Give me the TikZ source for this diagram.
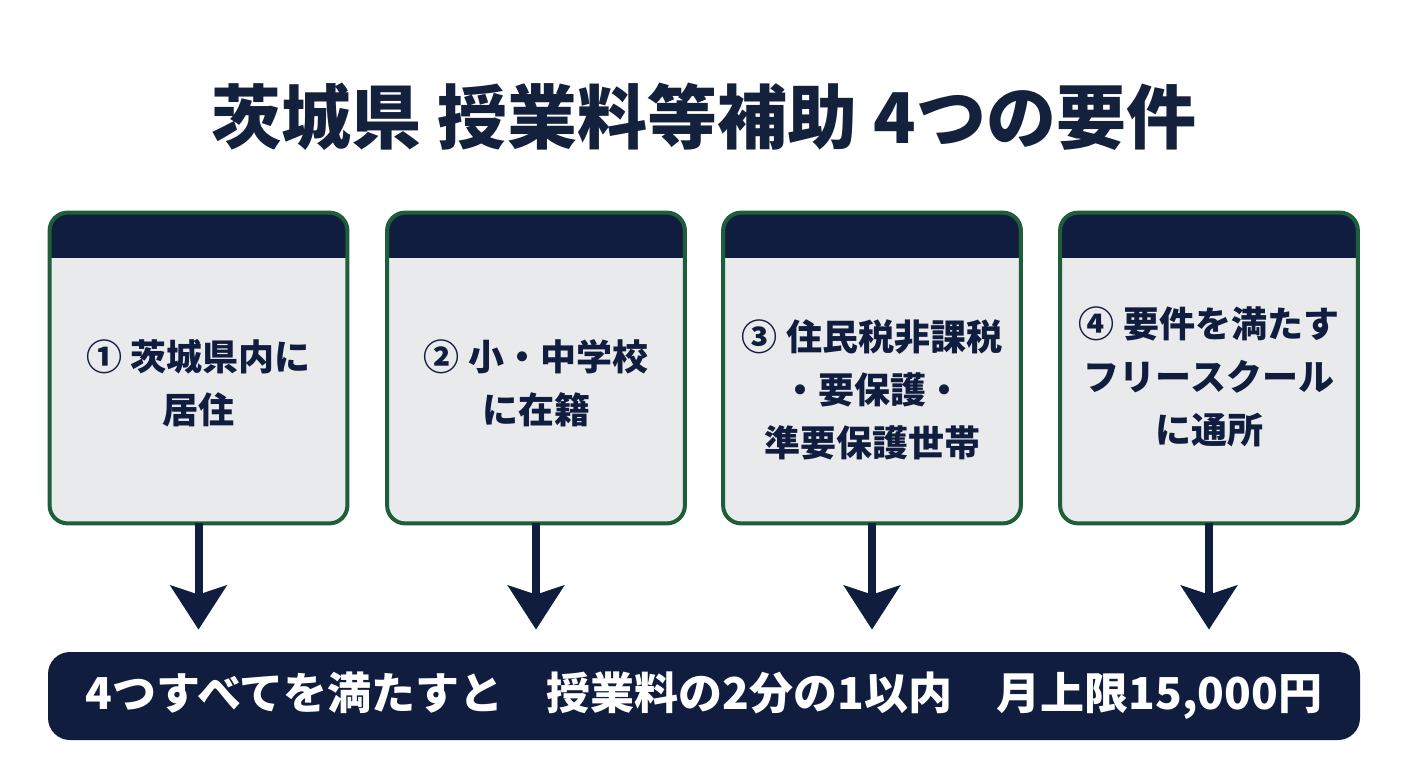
\documentclass[tikz,border=0pt]{standalone}
\usepackage{fontspec}
\setmainfont{Noto Sans CJK JP}
\usepackage{xcolor}
\usetikzlibrary{arrows.meta, calc}

\definecolor{navy}{HTML}{101D3F}
\definecolor{cardgreen}{HTML}{1F5E3B}
\definecolor{cardgray}{HTML}{E9EAEB}
\definecolor{titleink}{HTML}{14213D}

\begin{document}
\begin{tikzpicture}[x=0.5pt, y=0.5pt, >={Stealth[length=22pt, width=28pt, inset=4.5pt]},
  every node/.style={font=\bfseries},
  card/.style={rectangle, rounded corners=9pt, minimum width=148.5pt, minimum height=155pt, fill=cardgray, inner sep=0pt},
  cardtext/.style={align=center, text=navy, font=\fontsize{18}{26.5}\selectfont\bfseries},
  down/.style={->, draw=navy, fill=navy, line width=4pt, shorten >=11pt}]
  \useasboundingbox[fill=white] (0,0) rectangle (1408,768);
  \node[text=titleink, font=\fontsize{35}{40}\selectfont\bfseries] (title) at (704,651) {茨城県 授業料等補助 4つの要件};
  \node[rectangle, rounded corners=11pt, minimum width=656pt, minimum height=44pt, fill=navy, text=white, font=\fontsize{22}{26}\selectfont\bfseries] (bar) at (704,72) {4つすべてを満たすと\quad 授業料の2分の1以内\quad 月上限15,000円};
  % cards with dark header band
  \foreach \name/\x in {b1/198.5, b2/536, b3/872, b4/1209} {
    \node[card] (\name) at (\x,400) {};
    \begin{scope}
      \clip[rounded corners=9pt] (\name.south west) rectangle (\name.north east);
      \fill[navy] (\name.north west) rectangle ($(\name.north east)+(0,-45)$);
    \end{scope}
    \draw[cardgreen, line width=2pt, rounded corners=9pt] (\name.south west) rectangle (\name.north east);
  }
  \node[cardtext] (t1) at (198.5,385) {① 茨城県内に\\居住};
  \node[cardtext] (t2) at (536,385) {② 小・中学校\\に在籍};
  \node[cardtext] (t3) at (872,378) {③ 住民税非課税\\・要保護・\\準要保護世帯};
  \node[cardtext] (t4) at (1209,391) {④ 要件を満たす\\フリースクール\\に通所};
  \foreach \name in {b1, b2, b3, b4}
    \draw[down] (\name.south) -- (\name.south |- bar.north);
\end{tikzpicture}
\end{document}
